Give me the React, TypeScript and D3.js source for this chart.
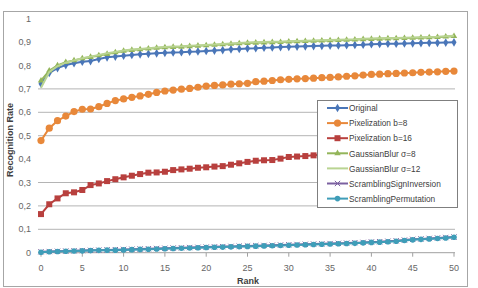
import * as d3 from 'd3';

const ranks = d3.range(0, 51);

const original = [0.722, 0.768, 0.789, 0.802, 0.810, 0.816, 0.819, 0.828, 0.835, 0.838, 0.842, 0.845, 0.848, 0.850, 0.852, 0.854, 0.856, 0.857, 0.859, 0.860, 0.862, 0.864, 0.866, 0.869, 0.871, 0.873, 0.874, 0.876, 0.877, 0.879, 0.880, 0.881, 0.882, 0.883, 0.884, 0.885, 0.886, 0.887, 0.888, 0.889, 0.891, 0.892, 0.893, 0.893, 0.894, 0.895, 0.896, 0.897, 0.897, 0.898, 0.899];
const pix8 = [0.479, 0.532, 0.564, 0.584, 0.603, 0.613, 0.614, 0.624, 0.638, 0.650, 0.657, 0.664, 0.670, 0.677, 0.685, 0.691, 0.695, 0.699, 0.702, 0.707, 0.712, 0.715, 0.717, 0.720, 0.722, 0.724, 0.731, 0.733, 0.736, 0.739, 0.741, 0.743, 0.744, 0.746, 0.748, 0.749, 0.751, 0.754, 0.756, 0.759, 0.762, 0.763, 0.765, 0.766, 0.768, 0.769, 0.771, 0.772, 0.773, 0.775, 0.776];
const pix16 = [0.165, 0.207, 0.232, 0.254, 0.258, 0.268, 0.289, 0.296, 0.306, 0.314, 0.322, 0.329, 0.336, 0.342, 0.343, 0.346, 0.353, 0.356, 0.359, 0.363, 0.365, 0.368, 0.370, 0.376, 0.382, 0.388, 0.393, 0.395, 0.396, 0.402, 0.409, 0.411, 0.413, 0.416, 0.419, 0.422, 0.425, 0.427, 0.430, 0.432, 0.435, 0.437, 0.440, 0.442, 0.444, 0.446, 0.448, 0.450, 0.452, 0.454, 0.456];
const blur8 = [0.735, 0.778, 0.800, 0.814, 0.822, 0.830, 0.836, 0.843, 0.849, 0.856, 0.862, 0.866, 0.869, 0.872, 0.875, 0.877, 0.879, 0.880, 0.882, 0.884, 0.886, 0.888, 0.890, 0.892, 0.894, 0.896, 0.897, 0.898, 0.899, 0.900, 0.902, 0.903, 0.904, 0.905, 0.906, 0.907, 0.908, 0.909, 0.910, 0.912, 0.913, 0.914, 0.915, 0.916, 0.917, 0.918, 0.919, 0.920, 0.921, 0.923, 0.925];
const blur12 = [0.705, 0.772, 0.797, 0.812, 0.822, 0.831, 0.838, 0.845, 0.852, 0.858, 0.864, 0.868, 0.871, 0.874, 0.877, 0.879, 0.881, 0.882, 0.884, 0.886, 0.888, 0.890, 0.892, 0.894, 0.896, 0.898, 0.899, 0.900, 0.901, 0.902, 0.904, 0.905, 0.906, 0.907, 0.908, 0.909, 0.910, 0.911, 0.912, 0.914, 0.915, 0.916, 0.917, 0.918, 0.919, 0.920, 0.921, 0.922, 0.923, 0.925, 0.927];
const signInv = [0.004, 0.005, 0.006, 0.007, 0.008, 0.009, 0.010, 0.011, 0.012, 0.013, 0.014, 0.015, 0.016, 0.017, 0.018, 0.019, 0.020, 0.021, 0.022, 0.023, 0.024, 0.025, 0.026, 0.027, 0.028, 0.029, 0.030, 0.031, 0.032, 0.033, 0.034, 0.035, 0.036, 0.037, 0.038, 0.039, 0.040, 0.041, 0.043, 0.044, 0.046, 0.047, 0.049, 0.051, 0.054, 0.057, 0.059, 0.061, 0.063, 0.065, 0.067];
const permutation = [0.002, 0.004, 0.005, 0.006, 0.007, 0.008, 0.009, 0.010, 0.011, 0.011, 0.012, 0.013, 0.014, 0.015, 0.016, 0.017, 0.018, 0.019, 0.020, 0.021, 0.022, 0.023, 0.024, 0.025, 0.026, 0.027, 0.028, 0.029, 0.030, 0.031, 0.032, 0.033, 0.034, 0.035, 0.036, 0.037, 0.038, 0.039, 0.040, 0.042, 0.044, 0.045, 0.047, 0.049, 0.052, 0.055, 0.057, 0.059, 0.061, 0.063, 0.066];

const yTicks = [0, 0.1, 0.2, 0.3, 0.4, 0.5, 0.6, 0.7, 0.8, 0.9, 1];
const gridTicks = [0.1, 0.2, 0.3, 0.5, 0.6, 0.7];
const xTicks = [0, 5, 10, 15, 20, 25, 30, 35, 40, 45, 50];

const series = [
  { name: 'Original', values: original, color: '#4a76b8', marker: 'diamond' },
  { name: 'Pixelization b=8', values: pix8, color: '#e8883a', marker: 'circle' },
  { name: 'Pixelization b=16', values: pix16, color: '#b8403e', marker: 'square' },
  { name: 'GaussianBlur σ=8', values: blur8, color: '#93b55a', marker: 'triangle' },
  { name: 'GaussianBlur σ=12', values: blur12, color: '#b9d492', marker: 'none' },
  { name: 'ScramblingSignInversion', values: signInv, color: '#7b60a0', marker: 'star' },
  { name: 'ScramblingPermutation', values: permutation, color: '#3f9db8', marker: 'circleSmall' },
];

const fmt = (v: number) => (v === 0 || v === 1 ? String(v) : v.toFixed(1).replace('.', ','));

function Marker({ type, x, y, color }: { type: string; x: number; y: number; color: string }) {
  if (type === 'circle') return <circle cx={x} cy={y} r={3.6} fill={color} />;
  if (type === 'circleSmall') return <circle cx={x} cy={y} r={2.8} fill={color} />;
  if (type === 'square') return <rect x={x - 3} y={y - 3} width={6} height={6} fill={color} />;
  if (type === 'diamond')
    return <path d={d3.symbol(d3.symbolDiamond, 22)()!} transform={`translate(${x},${y})`} fill={color} />;
  if (type === 'triangle')
    return <path d={d3.symbol(d3.symbolTriangle, 18)()!} transform={`translate(${x},${y})`} fill={color} />;
  if (type === 'star')
    return <path d={d3.symbol(d3.symbolTimes, 20)()!} transform={`translate(${x},${y})`} fill="none" stroke={color} strokeWidth={1} />;
  return null;
}

export default function App() {
  const width = 478;
  const height = 288;
  const x = d3.scaleLinear().domain([0, 50]).range([41, 454]);
  const y = d3.scaleLinear().domain([0, 1]).range([252.7, 18.7]);
  const line = d3.line<number>().x((_, i) => x(ranks[i])).y(d => y(d));
  const font = "'Liberation Sans', Arial, sans-serif";

  const legendX = 317;
  const legendY = 100;

  return (
    <svg width={width} height={height} style={{ position: 'absolute', left: 0, top: 0 }} fontFamily={font}>
      <rect x={0} y={0} width={width} height={height} fill="#fff" />
      <rect x={3.5} y={11.5} width={464} height={275} fill="#fff" stroke="#a6a6a6" />

      {gridTicks.map(t => (
        <line key={t} x1={38} x2={455} y1={y(t)} y2={y(t)} stroke="#b4b4b4" strokeWidth={1} />
      ))}
      <line x1={38} x2={455} y1={y(0)} y2={y(0)} stroke="#a0a0a0" />
      {xTicks.map(t => (
        <line key={t} x1={x(t)} x2={x(t)} y1={y(0)} y2={y(0) + 4} stroke="#a0a0a0" />
      ))}

      {yTicks.map(t => (
        <text key={t} x={31} y={y(t) + 3} textAnchor="end" fontSize={9} fill="#666">{fmt(t)}</text>
      ))}
      {xTicks.map(t => (
        <text key={t} x={x(t)} y={271} textAnchor="middle" fontSize={9} fill="#666">{t}</text>
      ))}

      <text x={248} y={284} textAnchor="middle" fontSize={9} fontWeight="bold" fill="#404040">Rank</text>
      <text transform="translate(13,140) rotate(-90)" textAnchor="middle" fontSize={9} fontWeight="bold" fill="#404040">Recognition Rate</text>

      {series.map(s => (
        <g key={s.name}>
          <path d={line(s.values)!} fill="none" stroke={s.color} strokeWidth={2} />
          {s.values.map((v, i) => (
            <Marker key={i} type={s.marker} x={x(ranks[i])} y={y(v)} color={s.color} />
          ))}
        </g>
      ))}

      <rect x={legendX + 0.5} y={legendY + 0.5} width={140} height={107} fill="#fff" stroke="#7f7f7f" />
      {series.map((s, i) => {
        const ly = legendY + 8 + i * 15.1;
        return (
          <g key={s.name}>
            <line x1={legendX + 10} x2={legendX + 31} y1={ly} y2={ly} stroke={s.color} strokeWidth={2} />
            <Marker type={s.marker} x={legendX + 20.5} y={ly} color={s.color} />
            <text x={legendX + 32} y={ly + 3.2} fontSize={8.3} fill="#404040">{s.name}</text>
          </g>
        );
      })}
    </svg>
  );
}
